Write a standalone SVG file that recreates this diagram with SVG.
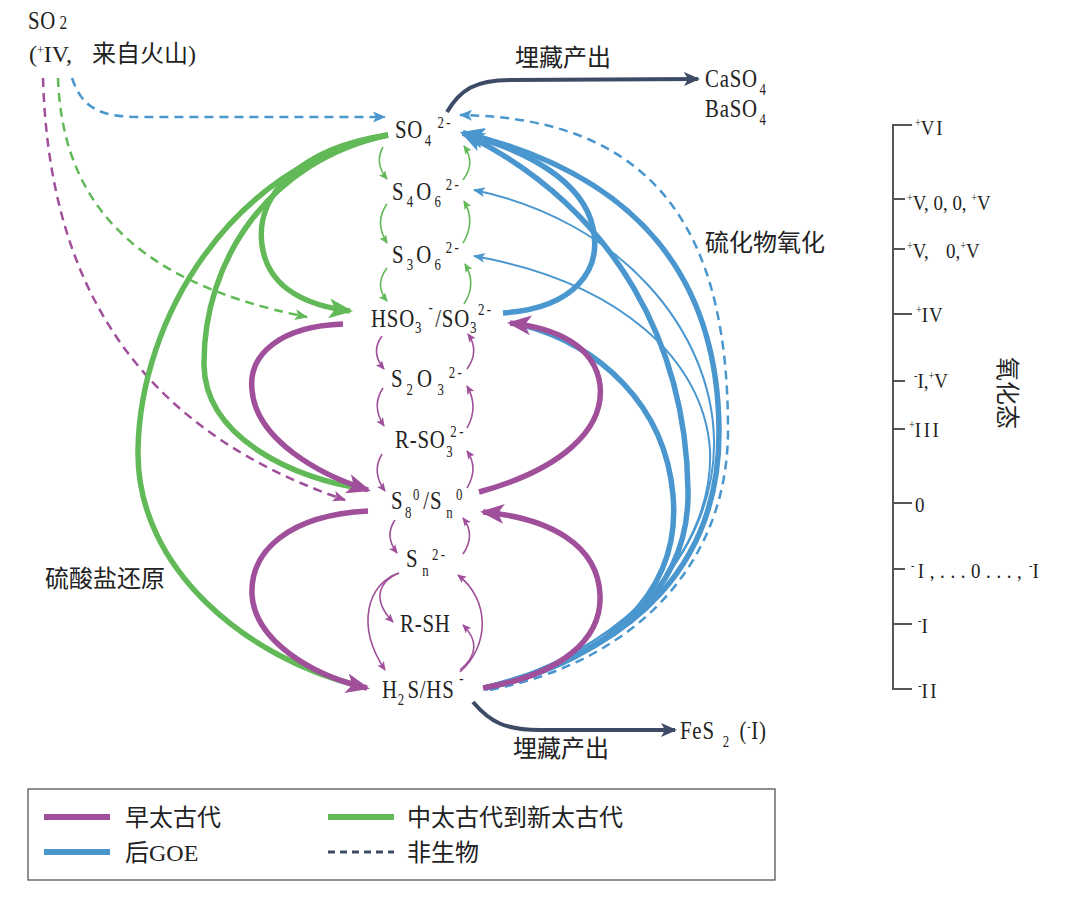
<svg xmlns="http://www.w3.org/2000/svg" width="1080" height="903" viewBox="0 0 1080 903">
<style>
.chem{font-family:"Liberation Serif","Times New Roman",serif;font-size:26px;fill:#222;letter-spacing:1px}
.sub{font-size:16px}
.sup{font-size:16px;letter-spacing:3px}
.cjk{font-family:"Liberation Serif","Noto Sans CJK SC",serif;font-size:24px;fill:#222}
.ax{font-family:"Liberation Serif","Times New Roman",serif;font-size:22px;fill:#222}
.axs{font-size:12px}
.th{fill:none;stroke-width:5.5;stroke-linecap:butt}
.tn{fill:none;stroke-width:1.6}
.ds{fill:none;stroke-width:2.5;stroke-dasharray:9 6}
.g{stroke:#62b957}.p{stroke:#a0509b}.b{stroke:#4a97cf}.n{stroke:#3e4b66}
</style>
<defs>
<marker id="aP" markerUnits="userSpaceOnUse" markerWidth="24" markerHeight="20" refX="21" refY="10" orient="auto"><path d="M0,0 L24,10 L0,20 L6,10 Z" fill="#a0509b"/></marker>
<marker id="aG" markerUnits="userSpaceOnUse" markerWidth="24" markerHeight="20" refX="21" refY="10" orient="auto"><path d="M0,0 L24,10 L0,20 L6,10 Z" fill="#62b957"/></marker>
<marker id="aB" markerUnits="userSpaceOnUse" markerWidth="24" markerHeight="20" refX="21" refY="10" orient="auto"><path d="M0,0 L24,10 L0,20 L6,10 Z" fill="#4a97cf"/></marker>
<marker id="aN" markerUnits="userSpaceOnUse" markerWidth="16" markerHeight="14" refX="14" refY="7" orient="auto"><path d="M0,0 L16,7 L0,14 L4,7 Z" fill="#3e4b66"/></marker>
<marker id="sP" markerUnits="userSpaceOnUse" markerWidth="9" markerHeight="8" refX="8" refY="4" orient="auto"><path d="M0,0 L9,4 L0,8 L2,4 Z" fill="#a0509b"/></marker>
<marker id="sG" markerUnits="userSpaceOnUse" markerWidth="9" markerHeight="8" refX="8" refY="4" orient="auto"><path d="M0,0 L9,4 L0,8 L2,4 Z" fill="#62b957"/></marker>
<marker id="sB" markerUnits="userSpaceOnUse" markerWidth="12" markerHeight="10" refX="11" refY="5" orient="auto"><path d="M0,0 L12,5 L0,10 L3,5 Z" fill="#4a97cf"/></marker>
<marker id="dB" markerUnits="userSpaceOnUse" markerWidth="13" markerHeight="11" refX="12" refY="5.5" orient="auto"><path d="M0,0 L13,5.5 L0,11 L3,5.5 Z" fill="#4a97cf"/></marker>
<marker id="dG" markerUnits="userSpaceOnUse" markerWidth="13" markerHeight="11" refX="12" refY="5.5" orient="auto"><path d="M0,0 L13,5.5 L0,11 L3,5.5 Z" fill="#62b957"/></marker>
<marker id="dP" markerUnits="userSpaceOnUse" markerWidth="13" markerHeight="11" refX="12" refY="5.5" orient="auto"><path d="M0,0 L13,5.5 L0,11 L3,5.5 Z" fill="#a0509b"/></marker>
</defs>
<rect width="1080" height="903" fill="#fff"/>

<g id="connectors">
  <!-- abiotic dashed -->
  <path class="ds b" d="M72,78 C82,108 100,117 140,117 L385,117" marker-end="url(#dB)"/>
  <path class="ds g" d="M58,78 C62,190 120,280 307,317" marker-end="url(#dG)"/>
  <path class="ds p" d="M43,78 C48,250 110,420 345,500" marker-end="url(#dP)"/>
  <path class="ds b" d="M490,690 C640,660 728,560 728,430 C728,250 670,118 460,115" marker-end="url(#dB)"/>
  <!-- post-GOE blue -->
  <path class="tn b" style="stroke-width:2" d="M485,688 C640,645 716,540 714,440 C712,330 620,220 474,190" marker-end="url(#sB)"/>
  <path class="tn b" style="stroke-width:2" d="M485,688 C640,645 714,540 710,450 C704,360 620,282 474,256" marker-end="url(#sB)"/>
  <path class="th b" d="M485,688 C605,662 682,595 673,495 C665,405 600,345 520,324"/>
  <path class="th b" d="M485,688 C615,655 690,590 688,490 C686,350 620,210 463,133" marker-end="url(#aB)"/>
  <path class="th b" d="M485,688 C640,650 720,560 719,430 C718,280 640,175 463,133" marker-end="url(#aB)"/>
  <path class="th b" d="M503,313 C575,308 602,270 593,228 C583,180 525,150 463,133" marker-end="url(#aB)"/>
  <!-- green: sulfate reduction -->
  <path class="th g" d="M388,135 C230,165 140,320 138,450 C136,570 250,660 360,686"/>
  <path class="th g" d="M388,135 C270,160 203,260 204,365 C205,440 300,480 360,488"/>
  <path class="th g" d="M388,135 C300,148 255,195 262,245 C268,290 310,306 350,311" marker-end="url(#aG)"/>
  <path class="tn g" d="M383,147 Q374,163 387,179" marker-end="url(#sG)"/>
  <path class="tn g" d="M387,204 Q374,222 387,243" marker-end="url(#sG)"/>
  <path class="tn g" d="M387,268 Q374,285 387,301" marker-end="url(#sG)"/>
  <path class="tn g" d="M463,180 Q476,163 464,146" marker-end="url(#sG)"/>
  <path class="tn g" d="M463,243 Q476,222 464,201" marker-end="url(#sG)"/>
  <path class="tn g" d="M464,304 Q477,284 465,264" marker-end="url(#sG)"/>
  <!-- purple: early Archean -->
  <path class="th p" d="M343,324 C280,326 248,355 252,390 C256,440 320,475 368,490" marker-end="url(#aP)"/>
  <path class="th p" d="M479,492 C560,470 605,430 600,385 C595,345 555,328 510,323" marker-end="url(#aP)"/>
  <path class="th p" d="M368,511 C290,515 250,550 252,595 C255,640 310,675 367,688" marker-end="url(#aP)"/>
  <path class="th p" d="M483,688 C560,675 602,640 600,595 C598,545 550,518 483,512" marker-end="url(#aP)"/>
  <path class="tn p" d="M382,336 Q370,352 384,369" marker-end="url(#sP)"/>
  <path class="tn p" d="M383,388 Q371,406 384,426" marker-end="url(#sP)"/>
  <path class="tn p" d="M382,454 Q371,472 385,491" marker-end="url(#sP)"/>
  <path class="tn p" d="M395,520 Q384,536 397,553" marker-end="url(#sP)"/>
  <path class="tn p" d="M467,369 Q480,351 468,334" marker-end="url(#sP)"/>
  <path class="tn p" d="M467,428 Q479,407 467,386" marker-end="url(#sP)"/>
  <path class="tn p" d="M467,488 Q479,468 467,451" marker-end="url(#sP)"/>
  <path class="tn p" d="M463,554 Q476,535 463,518" marker-end="url(#sP)"/>
  <path class="tn p" d="M399,573 C378,582 372,600 393,622" marker-end="url(#sP)"/>
  <path class="tn p" d="M399,573 C368,583 355,625 385,670" marker-end="url(#sP)"/>
  <path class="tn p" d="M460,670 C478,655 478,640 463,625" marker-end="url(#sP)"/>
  <path class="tn p" d="M460,672 C490,645 490,600 458,575" marker-end="url(#sP)"/>
  <!-- burial -->
  <path class="n" fill="none" stroke-width="4" d="M447,112 C460,90 475,80 510,80 L698,79" marker-end="url(#aN)"/>
  <path class="n" fill="none" stroke-width="4" d="M473,702 C490,722 505,730 540,730 L675,730" marker-end="url(#aN)"/>
</g>

<g id="node-so2">
  <text class="chem" transform="translate(28,29) scale(0.8,1)">SO<tspan font-size="19" dx="4">2</tspan></text>
  <text class="cjk" x="29" y="62">(<tspan class="axs" dy="-8">+</tspan><tspan dy="8">IV,</tspan><tspan dx="20">来自火山)</tspan></text>
</g>
<g id="node-so4"><text class="chem" transform="translate(395,138) scale(0.8,1)">SO<tspan class="sub" dx="2" dy="8">4</tspan><tspan class="sup" dx="7" dy="-18">2-</tspan></text></g>
<g id="node-s4o6"><text class="chem" transform="translate(392,200) scale(0.8,1)">S<tspan class="sub" dx="3" dy="7">4</tspan><tspan dx="3" dy="-7">O</tspan><tspan class="sub" dx="3" dy="7">6</tspan><tspan class="sup" dx="5" dy="-17">2-</tspan></text></g>
<g id="node-s3o6"><text class="chem" transform="translate(392,263) scale(0.8,1)">S<tspan class="sub" dx="3" dy="7">3</tspan><tspan dx="3" dy="-7">O</tspan><tspan class="sub" dx="3" dy="7">6</tspan><tspan class="sup" dx="5" dy="-17">2-</tspan></text></g>
<g id="node-hso3"><text class="chem" transform="translate(371,327) scale(0.8,1)">HSO<tspan class="sub" dy="6">3</tspan><tspan class="sup" dx="8" dy="-20">-</tspan><tspan dx="0" dy="14">/SO</tspan><tspan class="sub" dy="6">3</tspan><tspan class="sup" dx="1" dy="-18">2-</tspan></text></g>
<g id="node-s2o3"><text class="chem" transform="translate(391,387) scale(0.8,1)">S<tspan class="sub" dx="4" dy="8">2</tspan><tspan dx="4" dy="-8">O</tspan><tspan class="sub" dx="6" dy="8">3</tspan><tspan class="sup" dx="5" dy="-17">2-</tspan></text></g>
<g id="node-rso3"><text class="chem" transform="translate(395,448) scale(0.8,1)">R-SO<tspan class="sub" dx="1" dy="9">3</tspan><tspan class="sup" dx="-4" dy="-20">2-</tspan></text></g>
<g id="node-s8"><text class="chem" transform="translate(391,509) scale(0.8,1)">S<tspan class="sub" dx="2" dy="9">8</tspan><tspan class="sup" dx="1" dy="-18">0</tspan><tspan dx="2" dy="9">/S</tspan><tspan class="sub" dx="5" dy="9">n</tspan><tspan class="sup" dx="3" dy="-18">0</tspan></text></g>
<g id="node-sn"><text class="chem" transform="translate(406,567) scale(0.8,1)">S<tspan class="sub" dx="5" dy="9">n</tspan><tspan class="sup" dx="3" dy="-16">2-</tspan></text></g>
<g id="node-rsh"><text class="chem" transform="translate(400,632) scale(0.8,1)">R-SH</text></g>
<g id="node-h2s"><text class="chem" transform="translate(382,698) scale(0.8,1)">H<tspan class="sub" dy="7">2</tspan><tspan dx="3" dy="-7">S/HS</tspan><tspan class="sup" dx="6" dy="-14">-</tspan></text></g>
<g id="node-caso4">
  <text class="chem" transform="translate(705,87) scale(0.8,1)">CaSO<tspan class="sub" dx="2" dy="8">4</tspan></text>
  <text class="chem" transform="translate(705,117) scale(0.8,1)">BaSO<tspan class="sub" dx="2" dy="8">4</tspan></text>
</g>
<g id="node-fes2"><text class="chem" transform="translate(680,739) scale(0.8,1)">FeS<tspan class="sub" dx="10" dy="8">2</tspan><tspan dx="12" dy="-8">(</tspan><tspan class="axs" dy="-8">-</tspan><tspan dy="8">I)</tspan></text></g>

<g id="labels">
  <text class="cjk" x="515" y="66">埋藏产出</text>
  <text class="cjk" x="513" y="757">埋藏产出</text>
  <text class="cjk" x="705" y="251">硫化物氧化</text>
  <text class="cjk" x="45" y="587">硫酸盐还原</text>
</g>

<g id="axis">
  <path d="M912,125 H893 V689 H912 M893,199 H905 M893,249 H905 M893,314 H912 M893,381 H905 M893,429 H905 M893,503 H912 M893,569 H905 M893,624 H912" fill="none" stroke="#555" stroke-width="2"/>
  <text class="ax" transform="translate(915,135) scale(0.86,1)"><tspan class="axs" dy="-8">+</tspan><tspan dy="8" letter-spacing="2">VI</tspan></text>
  <text class="ax" transform="translate(907,210) scale(0.86,1)"><tspan class="axs" dy="-8">+</tspan><tspan dy="8">V, 0, 0, </tspan><tspan class="axs" dy="-8">+</tspan><tspan dy="8">V</tspan></text>
  <text class="ax" transform="translate(907,258) scale(0.86,1)"><tspan class="axs" dy="-8">+</tspan><tspan dy="8">V,</tspan><tspan dx="20">0,</tspan><tspan class="axs" dy="-8">+</tspan><tspan dy="8">V</tspan></text>
  <text class="ax" transform="translate(916,322) scale(0.86,1)"><tspan class="axs" dy="-8">+</tspan><tspan dy="8" letter-spacing="1">IV</tspan></text>
  <text class="ax" transform="translate(914,388) scale(0.86,1)"><tspan class="axs" dy="-8">-</tspan><tspan dy="8">I,</tspan><tspan class="axs" dy="-8">+</tspan><tspan dy="8">V</tspan></text>
  <text class="ax" transform="translate(909,437) scale(0.86,1)"><tspan class="axs" dy="-8">+</tspan><tspan dy="8" letter-spacing="3">III</tspan></text>
  <text class="ax" transform="translate(915,512) scale(0.86,1)">0</text>
  <text class="ax" transform="translate(911,578) scale(0.86,1)"><tspan class="axs" dy="-8">-</tspan><tspan dx="4" dy="8" letter-spacing="6.5">I,...0...,</tspan><tspan class="axs" dx="2" dy="-8">-</tspan><tspan dy="8">I</tspan></text>
  <text class="ax" transform="translate(918,633) scale(0.86,1)"><tspan class="axs" dy="-8">-</tspan><tspan dy="8">I</tspan></text>
  <text class="ax" transform="translate(918,698) scale(0.86,1)"><tspan class="axs" dy="-8">-</tspan><tspan dy="8" letter-spacing="3">II</tspan></text>
  <text class="cjk" font-size="22" transform="translate(999,357) rotate(90)">氧化态</text>
</g>

<g id="legend">
  <rect x="28" y="789" width="747" height="91" fill="#fff" stroke="#555" stroke-width="1.3"/>
  <line x1="44" y1="817" x2="110" y2="817" stroke="#a0509b" stroke-width="6"/>
  <text class="cjk" x="125" y="826">早太古代</text>
  <line x1="328" y1="817" x2="394" y2="817" stroke="#62b957" stroke-width="6"/>
  <text class="cjk" x="407" y="826">中太古代到新太古代</text>
  <line x1="44" y1="852" x2="110" y2="852" stroke="#4a97cf" stroke-width="6"/>
  <text class="cjk" x="125" y="861">后GOE</text>
  <line x1="328" y1="852" x2="394" y2="852" stroke="#3e4b66" stroke-width="3" stroke-dasharray="7 5"/>
  <text class="cjk" x="407" y="861">非生物</text>
</g>
</svg>
